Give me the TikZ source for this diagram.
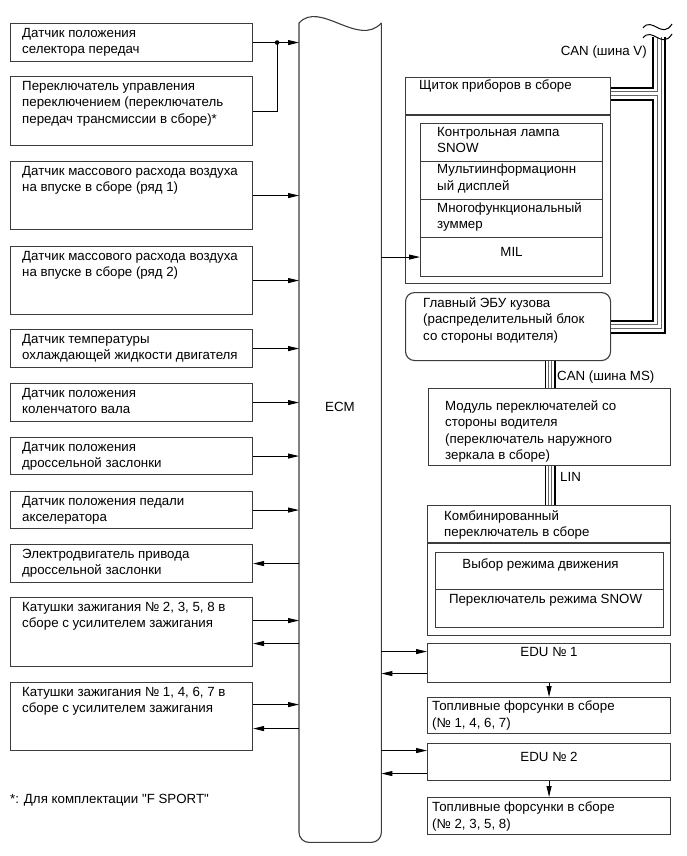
\documentclass[tikz,border=0pt]{standalone}
\usepackage{fontspec}
\newfontfamily\diagfont{Liberation Sans}
\usepackage{xcolor}
\usetikzlibrary{arrows.meta,positioning,calc}
\definecolor{LineGray}{HTML}{3C3C3C}

\begin{document}
\begin{tikzpicture}[x=1pt, y=-1pt,
    outline/.style={draw=LineGray, line width=1.1pt},
    box/.style={outline, inner sep=0pt, anchor=north west},
    txt/.style={anchor=north west, inner sep=0pt, align=left, font=\diagfont\fontsize{13.3}{16.5}\selectfont},
    lbl/.style={inner sep=0pt, font=\diagfont\fontsize{13.3}{16.5}\selectfont},
    wire/.style={draw=black, line width=1pt},
    arr/.style={wire, -{Triangle[length=11pt,width=5pt]}},
    busV/.style={draw=black, line width=14pt, postaction={draw=white, line width=10pt},
      postaction={draw=black!60, line width=5pt}, postaction={draw=white, line width=3pt}},
    busL/.style={draw=black, line width=11pt, postaction={draw=white, line width=7.4pt},
      postaction={draw=black!60, line width=4pt}, postaction={draw=white, line width=2.2pt}}]
  \useasboundingbox (0,0) rectangle (686,856);

  % ECM
  \node[inner sep=0pt, minimum width=82, minimum height=819, anchor=north west] (ecm) at (299,23) {};
  \draw[outline, rounded corners=10pt] (ecm.north west) -- (ecm.south west) -- (ecm.south east) -- (ecm.north east);
  \draw[outline] (ecm.north west) .. controls +(21,-23) and +(-23,25) .. (ecm.north east);
  \node[lbl] (ecm-t) at (340,407) {ECM};

  % inputs and outputs, left
  \node[box, minimum width=242, minimum height=38] (gsel) at (10,23) {};
  \node[box, minimum width=242, minimum height=69] (shift) at (10,76) {};
  \node[box, minimum width=242, minimum height=68] (mafa) at (10,161) {};
  \node[box, minimum width=242, minimum height=68] (mafb) at (10,246) {};
  \node[box, minimum width=242, minimum height=38] (ect) at (10,329) {};
  \node[box, minimum width=242, minimum height=38] (ckp) at (10,383) {};
  \node[box, minimum width=242, minimum height=37] (tps) at (10,437) {};
  \node[box, minimum width=242, minimum height=37] (app) at (10,491) {};
  \node[box, minimum width=242, minimum height=38] (etcs) at (10,544) {};
  \node[box, minimum width=242, minimum height=69] (igna) at (10,597) {};
  \node[box, minimum width=242, minimum height=68] (ignb) at (10,682) {};

  \node[txt] (gsel-t) at ($(gsel.north west)+(12,5)$) {Датчик положения\\селектора передач};
  \node[txt] (shift-t) at ($(shift.north west)+(12,5)$) {Переключатель управления\\переключением (переключатель\\передач трансмиссии в сборе)*};
  \node[txt] (mafa-t) at ($(mafa.north west)+(12,5)$) {Датчик массового расхода воздуха\\на впуске в сборе (ряд 1)};
  \node[txt] (mafb-t) at ($(mafb.north west)+(12,5)$) {Датчик массового расхода воздуха\\на впуске в сборе (ряд 2)};
  \node[txt] (ect-t) at ($(ect.north west)+(12,5)$) {Датчик температуры\\охлаждающей жидкости двигателя};
  \node[txt] (ckp-t) at ($(ckp.north west)+(12,5)$) {Датчик положения\\коленчатого вала};
  \node[txt] (tps-t) at ($(tps.north west)+(12,5)$) {Датчик положения\\дроссельной заслонки};
  \node[txt] (app-t) at ($(app.north west)+(12,5)$) {Датчик положения педали\\акселератора};
  \node[txt] (etcs-t) at ($(etcs.north west)+(12,5)$) {Электродвигатель привода\\дроссельной заслонки};
  \node[txt] (igna-t) at ($(igna.north west)+(12,5)$) {Катушки зажигания № 2, 3, 5, 8 в\\сборе с усилителем зажигания};
  \node[txt] (ignb-t) at ($(ignb.north west)+(12,5)$) {Катушки зажигания № 1, 4, 6, 7 в\\сборе с усилителем зажигания};
  \node[lbl, anchor=west] (note) at (10,800) {*: Для комплектации "F SPORT"};

  \coordinate (jn) at ($(gsel.east)+(24,0)$);
  \draw[arr] (gsel.east) -- (gsel.east -| ecm.west);
  \draw[wire] (shift.east) -| (jn);
  \fill (jn) circle (2.3pt);
  \draw[arr] (mafa.east) -- (mafa.east -| ecm.west);
  \draw[arr] (mafb.east) -- (mafb.east -| ecm.west);
  \draw[arr] (ect.east) -- (ect.east -| ecm.west);
  \draw[arr] (ckp.east) -- (ckp.east -| ecm.west);
  \draw[arr] (tps.east) -- (tps.east -| ecm.west);
  \draw[arr] (app.east) -- (app.east -| ecm.west);
  \draw[arr] (etcs.east -| ecm.west) -- (etcs.east);
  \coordinate (igna-i) at ($(igna.east)+(0,-11.5)$);
  \coordinate (igna-o) at ($(igna.east)+(0,11.5)$);
  \coordinate (ignb-i) at ($(ignb.east)+(0,-12)$);
  \coordinate (ignb-o) at ($(ignb.east)+(0,12)$);
  \draw[arr] (igna-i) -- (igna-i -| ecm.west);
  \draw[arr] (igna-o -| ecm.west) -- (igna-o);
  \draw[arr] (ignb-i) -- (ignb-i -| ecm.west);
  \draw[arr] (ignb-o -| ecm.west) -- (ignb-o);

  % combination meter
  \node[box, minimum width=205, minimum height=206] (clus) at (405,77) {};
  \node[txt] (clus-t) at ($(clus.north west)+(14,3)$) {Щиток приборов в сборе};
  \draw[outline] ($(clus.north west)+(0,38)$) -- ($(clus.north east)+(0,38)$);
  \node[box, minimum width=182, minimum height=38] (lamp) at (420,123) {};
  \node[box, minimum width=182, minimum height=38] (mfd) at (420,161) {};
  \node[box, minimum width=182, minimum height=38] (buzz) at (420,199) {};
  \node[box, minimum width=182, minimum height=39] (mil) at (420,237) {};
  \node[txt] (lamp-t) at ($(lamp.north west)+(17,4)$) {Контрольная лампа\\SNOW};
  \node[txt] (mfd-t) at ($(mfd.north west)+(17,3)$) {Мультиинформационн\\ый дисплей};
  \node[txt] (buzz-t) at ($(buzz.north west)+(17,3)$) {Многофункциональный\\зуммер};
  \node[txt, anchor=north] (mil-t) at ($(mil.north)+(0,10)$) {MIL};
  \draw[arr] (mil.west -| ecm.east) -- (mil.west);

  % main body ECU
  \node[box, rounded corners=9pt, minimum width=205, minimum height=68] (ecu) at (405,292) {};
  \node[txt] (ecu-t) at ($(ecu.north west)+(18,5)$) {Главный ЭБУ кузова\\(распределительный блок\\со стороны водителя)};

  % switches
  \node[box, minimum width=242, minimum height=77] (swm) at (428,388) {};
  \node[txt] (swm-t) at ($(swm.north west)+(17,12)$) {Модуль переключателей со\\стороны водителя\\(переключатель наружного\\зеркала в сборе)};
  \node[box, minimum width=243, minimum height=130] (comb) at (427,505) {};
  \node[txt] (comb-t) at ($(comb.north west)+(17,5)$) {Комбинированный\\переключатель в сборе};
  \draw[outline] ($(comb.north west)+(0,38)$) -- ($(comb.north east)+(0,38)$);
  \node[box, minimum width=228, minimum height=37] (drv) at (435,552) {};
  \node[box, minimum width=228, minimum height=38] (snow) at (435,589) {};
  \node[txt, anchor=north] (drv-t) at ($(drv.north)+(-9,7)$) {Выбор режима движения};
  \node[txt, anchor=north] (snow-t) at ($(snow.north)+(-4,5)$) {Переключатель режима SNOW};

  % injection
  \node[box, minimum width=243, minimum height=39] (edua) at (427,643) {};
  \node[box, minimum width=243, minimum height=36] (inja) at (427,697) {};
  \node[box, minimum width=243, minimum height=37] (edub) at (427,743) {};
  \node[box, minimum width=243, minimum height=37] (injb) at (427,797) {};
  \node[txt, anchor=north] (edua-t) at ($(edua.north)+(0,4)$) {EDU № 1};
  \node[txt] (inja-t) at ($(inja.north west)+(5,4)$) {Топливные форсунки в сборе\\(№ 1, 4, 6, 7)};
  \node[txt, anchor=north] (edub-t) at ($(edub.north)+(0,9)$) {EDU № 2};
  \node[txt] (injb-t) at ($(injb.north west)+(5,5)$) {Топливные форсунки в сборе\\(№ 2, 3, 5, 8)};
  \coordinate (edua-i) at ($(edua.west)+(0,-11.5)$);
  \coordinate (edua-o) at ($(edua.west)+(0,10.5)$);
  \coordinate (edub-i) at ($(edub.west)+(0,-11.5)$);
  \coordinate (edub-o) at ($(edub.west)+(0,11.5)$);
  \draw[arr] (edua-i -| ecm.east) -- (edua-i);
  \draw[arr] (edua-o) -- (edua-o -| ecm.east);
  \draw[arr] (edub-i -| ecm.east) -- (edub-i);
  \draw[arr] (edub-o) -- (edub-o -| ecm.east);
  \draw[arr] (edua.south) -- (inja.north);
  \draw[arr] (edub.south) -- (injb.north);

  % buses
  \coordinate (vtop) at (659,37);
  \coordinate (clbus) at ($(clus.north east)+(0,17)$);
  \coordinate (lx) at (550,0);
  \draw[busV] (vtop) -- (vtop |- ecu.east) -- (ecu.east) (clbus) -- (clbus -| vtop);
  \draw[busL] (ecu.south -| lx) -- (swm.north -| lx) (swm.south -| lx) -- (comb.north -| lx);
  \draw[line width=1pt] (643,28) .. controls (652,16) and (662,40) .. (672,24);
  \draw[line width=1pt] (643,38) .. controls (652,26) and (662,50) .. (672,34);
  \node[lbl, anchor=east] (canv) at (647,52) {CAN (шина V)};
  \node[lbl, anchor=west] (canms) at (557,377) {CAN (шина MS)};
  \node[lbl, anchor=west] (lin) at (560,477) {LIN};
\end{tikzpicture}
\end{document}
